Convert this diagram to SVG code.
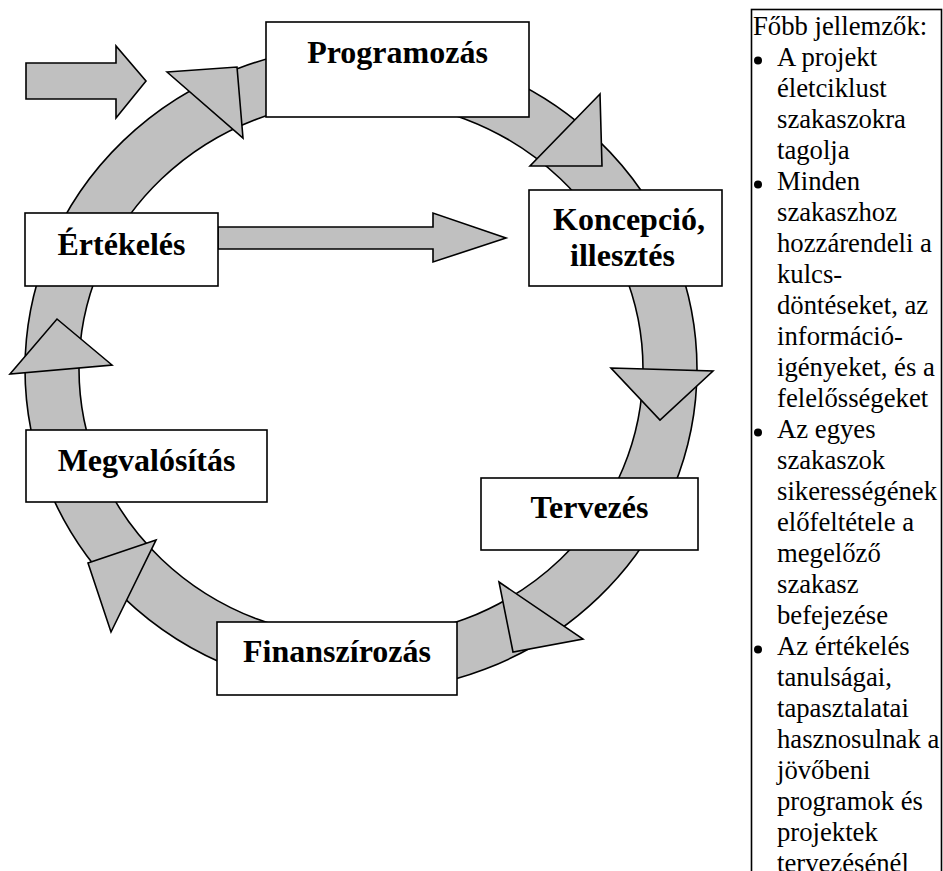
<svg xmlns="http://www.w3.org/2000/svg" width="943" height="871" viewBox="0 0 943 871">
  <style>
    .band { fill: #c0c0c0; stroke: #000; stroke-width: 1.6; stroke-linejoin: miter; }
    .box { fill: #fff; stroke: #000; stroke-width: 1.6; }
    .label { font-family: "Liberation Serif", "Times New Roman", serif; font-weight: bold; font-size: 32px; fill: #000; text-anchor: middle; }
    .panel { fill: #fff; stroke: #000; stroke-width: 1.6; }
    .note { font-family: "Liberation Serif", "Times New Roman", serif; font-size: 26.7px; fill: #000; }
  </style>
  <rect width="943" height="871" fill="#fff"/>

  <!-- cycle ring, arrowheads and straight arrows -->
  <g id="connectors">
    <path class="band" fill-rule="evenodd" d="M 25 369 A 336 323 0 1 1 697 369 A 336 323 0 1 1 25 369 Z M 79 369 A 282 269 0 1 0 643 369 A 282 269 0 1 0 79 369 Z"/>
    <polygon class="band" points="167,72 237,67 243,138"/>
    <polygon class="band" points="600,94 530,166 602,166"/>
    <polygon class="band" points="611,368 713,371 660,420"/>
    <polygon class="band" points="499,582 583,639 513,652"/>
    <polygon class="band" points="156,540 88,563 111,632"/>
    <polygon class="band" points="10,374 57,319 112,365"/>
    <polygon class="band" points="26,63 116,63 116,46 146,81 116,118 116,99 26,99"/>
    <polygon class="band" points="218,227 433,227 433,213 506,238 433,262 433,249 218,249"/>
  </g>

  <g id="programozas">
    <rect class="box" x="266" y="22" width="263" height="95"/>
    <text class="label" x="397.5" y="63">Programozás</text>
  </g>
  <g id="koncepcio">
    <rect class="box" x="529" y="190" width="193" height="96"/>
    <text class="label" x="629" y="230">Koncepció,</text>
    <text class="label" x="622.5" y="266">illesztés</text>
  </g>
  <g id="tervezes">
    <rect class="box" x="481" y="478" width="217" height="72"/>
    <text class="label" x="589.5" y="518">Tervezés</text>
  </g>
  <g id="finanszirozas">
    <rect class="box" x="217" y="622" width="240" height="73"/>
    <text class="label" x="337" y="662">Finanszírozás</text>
  </g>
  <g id="megvalositas">
    <rect class="box" x="26" y="430" width="241" height="72"/>
    <text class="label" x="146.5" y="471">Megvalósítás</text>
  </g>
  <g id="ertekeles">
    <rect class="box" x="25" y="213" width="193" height="73"/>
    <text class="label" x="121.5" y="255">Értékelés</text>
  </g>

  <!-- side panel with the key features -->
  <g id="features">
    <rect class="panel" x="751.5" y="9.5" width="190" height="880"/>
    <text class="note" x="753" y="35">Főbb jellemzők:</text>
    <circle cx="758" cy="60.5" r="4"/>
    <circle cx="758" cy="184.5" r="4"/>
    <circle cx="758" cy="432.5" r="4"/>
    <circle cx="758" cy="649.5" r="4"/>
    <text class="note">
      <tspan x="777" y="66">A projekt</tspan>
      <tspan x="777" y="97">életciklust</tspan>
      <tspan x="777" y="128">szakaszokra</tspan>
      <tspan x="777" y="159">tagolja</tspan>
      <tspan x="777" y="190">Minden</tspan>
      <tspan x="777" y="221">szakaszhoz</tspan>
      <tspan x="777" y="252">hozzárendeli a</tspan>
      <tspan x="777" y="283">kulcs-</tspan>
      <tspan x="777" y="314">döntéseket, az</tspan>
      <tspan x="777" y="345">információ-</tspan>
      <tspan x="777" y="376">igényeket, és a</tspan>
      <tspan x="777" y="407">felelősségeket</tspan>
      <tspan x="777" y="438">Az egyes</tspan>
      <tspan x="777" y="469">szakaszok</tspan>
      <tspan x="777" y="500">sikerességének</tspan>
      <tspan x="777" y="531">előfeltétele a</tspan>
      <tspan x="777" y="562">megelőző</tspan>
      <tspan x="777" y="593">szakasz</tspan>
      <tspan x="777" y="624">befejezése</tspan>
      <tspan x="777" y="655">Az értékelés</tspan>
      <tspan x="777" y="686">tanulságai,</tspan>
      <tspan x="777" y="717">tapasztalatai</tspan>
      <tspan x="777" y="748">hasznosulnak a</tspan>
      <tspan x="777" y="779">jövőbeni</tspan>
      <tspan x="777" y="810">programok és</tspan>
      <tspan x="777" y="841">projektek</tspan>
      <tspan x="777" y="872">tervezésénél</tspan>
    </text>
  </g>
</svg>
